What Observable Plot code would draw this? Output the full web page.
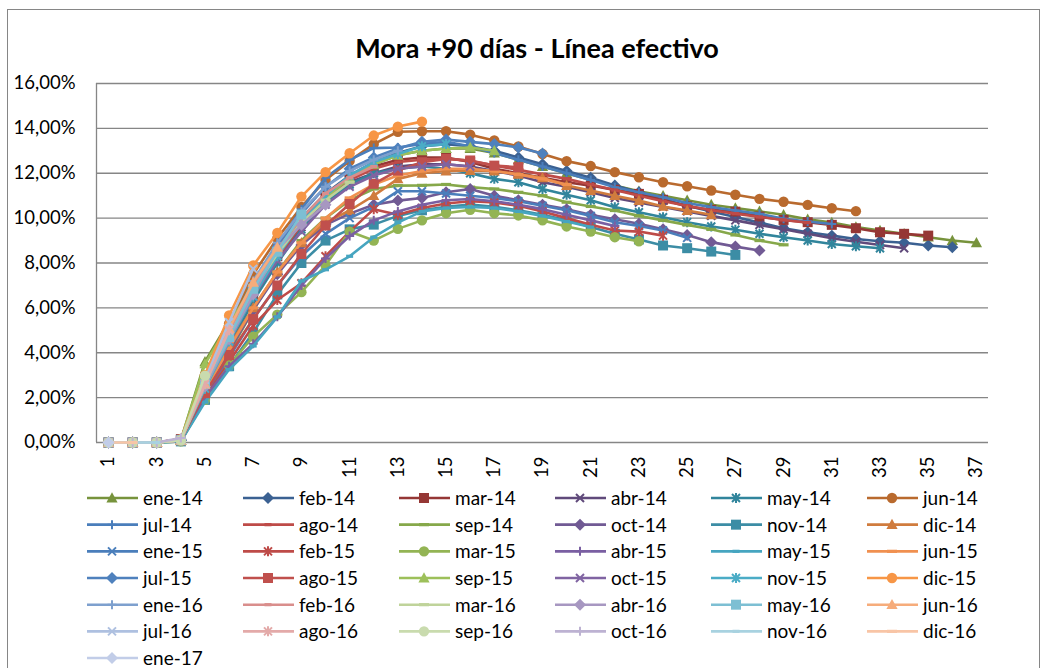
<!DOCTYPE html>
<html><head><meta charset="utf-8">
<script src="https://cdn.jsdelivr.net/npm/d3@7"></script>
<script src="https://cdn.jsdelivr.net/npm/@observablehq/plot@0.6"></script>
<style>
html,body{margin:0;padding:0;background:#fff;}
#wrap{position:relative;width:1050px;height:668px;overflow:hidden;font-family:Lato,"Open Sans",sans-serif;}
#border{position:absolute;left:7px;top:9px;width:1033px;height:700px;border:1.3px solid #868686;box-sizing:border-box;}
#title{position:absolute;left:0;width:1074px;top:31px;text-align:center;font-weight:bold;font-size:27px;color:#000;}
#chart{position:absolute;left:0;top:0;}
#legend{position:absolute;left:0;top:480px;}
</style></head>
<body><div id="wrap"><div id="border"></div><div id="chart"></div><div id="title">Mora +90 días - Línea efectivo</div><div id="legend"></div></div>
<script>
// ---- data (percent) ----
const seriesNames = ["ene-14","feb-14","mar-14","abr-14","may-14","jun-14","jul-14","ago-14","sep-14","oct-14","nov-14","dic-14",
  "ene-15","feb-15","mar-15","abr-15","may-15","jun-15","jul-15","ago-15","sep-15","oct-15","nov-15","dic-15",
  "ene-16","feb-16","mar-16","abr-16","may-16","jun-16","jul-16","ago-16","sep-16","oct-16","nov-16","dic-16","ene-17"];
const xTickLabels = [1,3,5,7,9,11,13,15,17,19,21,23,25,27,29,31,33,35,37];
const yTickValues = [0,2,4,6,8,10,12,14,16];

const ene14 = [0,0,0,0.1,3.6,5.4,7.2,8.7,10.0,11.0,11.8,12.4,12.8,13.0,13.1,13.1,12.9,12.6,12.3,12.0,11.7,11.45,11.2,11.0,10.8,10.6,10.45,10.3,10.15,9.95,9.8,9.6,9.45,9.3,9.15,9.0,8.9];
const feb14 = [0,0,0,0.1,2.8,5.0,7.0,8.6,10.0,11.1,11.9,12.5,12.9,13.2,13.3,13.2,13.0,12.7,12.4,12.1,11.8,11.45,11.15,10.85,10.55,10.3,10.05,9.8,9.55,9.37,9.22,9.07,8.97,8.9,8.78,8.7];
const mar14 = [0,0,0,0.15,2.5,4.6,6.6,8.3,9.8,11.0,11.8,12.3,12.6,12.7,12.7,12.5,12.2,12.0,11.8,11.6,11.45,11.26,11.08,10.82,10.52,10.37,10.29,10.07,9.92,9.82,9.7,9.55,9.37,9.3,9.22];
const abr14 = [0,0,0,0.1,2.4,4.4,6.4,8.1,9.6,10.8,11.6,12.0,12.3,12.4,12.4,12.3,12.1,11.9,11.6,11.4,11.15,10.9,10.7,10.5,10.3,10.1,9.9,9.7,9.5,9.3,9.1,8.95,8.8,8.66];
const may14 = [0,0,0,0.1,2.3,4.3,6.3,8.0,9.5,10.7,11.5,12.0,12.2,12.3,12.2,12.0,11.75,11.6,11.3,11.04,10.8,10.49,10.26,10.04,9.82,9.63,9.48,9.3,9.15,9.0,8.85,8.75,8.66];
const jun14 = [0,0,0,0.15,3.0,5.3,7.5,9.1,10.5,11.7,12.55,13.3,13.85,13.87,13.87,13.72,13.46,13.19,12.86,12.54,12.32,12.05,11.82,11.6,11.42,11.23,11.04,10.86,10.73,10.59,10.44,10.31];
const jul14 = [0,0,0,0.1,2.6,4.8,7.0,8.8,10.4,11.8,12.6,13.12,13.15,13.3,13.4,13.2,12.9,12.6,12.3,12.0,11.7,11.38,11.15,10.93,10.67,10.49,10.34,10.19,9.97,9.85,9.74];
const ago14 = [0,0,0,0.1,2.5,4.5,6.5,8.2,9.7,10.9,11.7,12.2,12.5,12.6,12.65,12.55,12.35,12.15,11.95,11.75,11.5,11.25,11.0,10.75,10.55,10.35,10.2,10.05,9.92,9.8];
const sep14 = [0,0,0,0.1,2.2,4.0,5.9,7.6,9.0,10.0,10.8,11.3,11.45,11.46,11.5,11.38,11.3,11.15,11.0,10.71,10.52,10.34,10.1,9.9,9.7,9.5,9.25,9.0,8.81];
const oct14 = [0,0,0,0.1,2.2,4.1,5.9,7.5,8.8,9.7,10.2,10.6,10.78,10.9,11.15,11.3,11.0,10.8,10.6,10.4,10.15,9.95,9.75,9.5,9.25,8.93,8.73,8.56];
const nov14 = [0,0,0,0.05,1.9,3.4,4.9,6.6,8.0,9.0,9.5,9.71,10.1,10.35,10.5,10.6,10.5,10.35,10.15,9.9,9.6,9.3,9.05,8.78,8.66,8.51,8.36];
const dic14 = [0,0,0,0.1,2.4,4.3,6.0,7.6,8.9,9.8,10.34,11.0,11.75,12.0,12.1,12.12,12.1,11.95,11.8,11.45,11.23,11.0,10.78,10.52,10.34,10.15];
const ene15 = [0,0,0,0.1,2.1,3.8,5.5,7.0,8.3,9.3,10.0,10.5,11.2,11.2,11.1,11.0,10.9,10.75,10.55,10.35,10.1,9.82,9.65,9.45,9.12];
const feb15 = [0,0,0,0.1,2.0,3.6,5.2,6.35,7.1,8.3,9.4,10.4,10.15,10.45,10.65,10.75,10.7,10.55,10.3,10.0,9.7,9.45,9.4,9.22];
const mar15 = [0,0,0,0.05,1.9,3.43,4.72,5.7,6.7,7.9,9.4,9.0,9.52,9.9,10.22,10.37,10.22,10.12,9.9,9.63,9.4,9.15,8.97];
const abr15 = [0,0,0,0.1,2.0,3.4,4.4,5.6,7.0,8.2,9.2,9.9,10.3,10.6,10.8,10.85,10.75,10.6,10.4,10.15,9.9,9.65];
const may15 = [0,0,0,0.05,1.8,3.25,4.3,5.6,7.2,7.7,8.3,9.15,9.8,10.3,10.45,10.5,10.45,10.3,10.1,9.85,9.6];
const jun15 = [0,0,0,0.1,2.3,4.2,6.0,7.6,8.9,10.0,10.9,11.5,11.9,12.1,12.2,12.2,12.1,11.95,11.75,11.5];
const jul15 = [0,0,0,0.1,2.6,4.8,6.9,8.7,10.2,11.4,12.2,12.7,13.1,13.4,13.5,13.4,13.3,13.15,12.88];
const ago15 = [0,0,0,0.1,2.2,3.9,5.5,7.0,8.4,9.67,10.63,11.53,12.12,12.49,12.64,12.57,12.34,12.27];
const sep15 = [0,0,0,0.1,3.5,5.3,7.0,8.5,9.8,10.9,11.8,12.4,12.8,13.0,13.1,13.15,13.0];
const oct15 = [0,0,0,0.15,2.5,4.5,6.5,8.1,9.4,10.6,11.4,11.9,12.2,12.3,12.4,12.3];
const nov15 = [0,0,0,0.1,2.4,4.5,6.5,8.3,9.8,11.0,11.9,12.5,12.86,13.2,13.3];
const dic15 = [0,0,0,0.15,3.0,5.66,7.89,9.34,10.96,12.05,12.89,13.68,14.08,14.3];
const ene16 = [0,0,0,0.1,2.7,5.0,7.2,8.9,10.3,11.4,12.1,12.6,13.0];
const feb16 = [0,0,0,0.1,2.6,4.9,7.0,8.6,10.0,11.1,11.8,12.3];
const mar16 = [0,0,0,0.1,2.5,4.7,6.8,8.4,9.8,10.8,11.6];
const abr16 = [0,0,0,0.15,2.5,4.6,6.6,8.6,9.7,10.6];
const may16 = [0,0,0,0.1,2.6,4.7,6.85,8.5,10.16];
const jun16 = [0,0,0,0.1,2.6,5.08,7.14,8.7];
const jul16 = [0,0,0,0.1,2.8,5.36,7.74];
const ago16 = [0,0,0,0.1,2.6,5.0];
const sep16 = [0,0,0,0.1,2.98];
const oct16 = [0,0,0,0.2];
const nov16 = [0,0,0];
const dic16 = [0,0];
const ene17 = [0];

const seriesValues = [ene14,feb14,mar14,abr14,may14,jun14,jul14,ago14,sep14,oct14,nov14,dic14,
  ene15,feb15,mar15,abr15,may15,jun15,jul15,ago15,sep15,oct15,nov15,dic15,
  ene16,feb16,mar16,abr16,may16,jun16,jul16,ago16,sep16,oct16,nov16,dic16,ene17];

const seriesColors = ["#77933C","#3B6192","#953735","#604A7B","#31859C","#B96A2E",
  "#4A7EBB","#BE4B48","#86A84A","#715A94","#3C8DA5","#D07C3E",
  "#4A7EBB","#BE4B48","#93B454","#7A5FA2","#46A5C0","#F09050",
  "#4F81BD","#C0504D","#9DC05A","#8064A2","#4BACC6","#F79646",
  "#7EA0CE","#D98E8C","#BFD39A","#A797C1","#7DBFD3","#F6AC7B",
  "#AEC0E0","#E3AAA9","#C9DBAE","#BDB2D2","#A8D2E0","#F8C5A6","#C2CDE8"];
const seriesMarkers = ["triangle","diamond","square","x","asterisk","circle","plus","dot","dash","diamond","square","triangle",
  "x","asterisk","circle","plus","dot","dash","diamond","square","triangle","x","asterisk","circle",
  "plus","dot","dash","diamond","square","triangle","x","asterisk","circle","plus","dot","dash","diamond"];

// ---- marker shapes ----
const shapes = {
  triangle: {fill: true, draw(c){c.moveTo(0,-5.8);c.lineTo(5.6,4.4);c.lineTo(-5.6,4.4);c.closePath();}},
  diamond: {fill: true, draw(c){c.moveTo(0,-6);c.lineTo(6,0);c.lineTo(0,6);c.lineTo(-6,0);c.closePath();}},
  square: {fill: true, draw(c){c.moveTo(-5,-5);c.lineTo(5,-5);c.lineTo(5,5);c.lineTo(-5,5);c.closePath();}},
  circle: {fill: true, draw(c){c.moveTo(5.2,0);c.arc(0,0,5.2,0,2*Math.PI);c.closePath();}},
  x: {fill: false, draw(c){c.moveTo(-4,-4);c.lineTo(4,4);c.moveTo(4,-4);c.lineTo(-4,4);}},
  asterisk: {fill: false, draw(c){c.moveTo(-4,-4);c.lineTo(4,4);c.moveTo(4,-4);c.lineTo(-4,4);c.moveTo(0,-5);c.lineTo(0,5);}},
  plus: {fill: false, draw(c){c.moveTo(-4.5,0);c.lineTo(4.5,0);c.moveTo(0,-4.5);c.lineTo(0,4.5);}},
  dot: {fill: true, draw(c){c.moveTo(-3.5,-1.6);c.lineTo(3.5,-1.6);c.lineTo(3.5,1.6);c.lineTo(-3.5,1.6);c.closePath();}},
  dash: {fill: true, draw(c){c.moveTo(-5,-1.6);c.lineTo(5,-1.6);c.lineTo(5,1.6);c.lineTo(-5,1.6);c.closePath();}}
};
const symbolOf = k => ({draw: (ctx) => shapes[k].draw(ctx)});

// ---- marks ----
const fmt = v => v.toFixed(2).replace(".", ",") + "%";
const seriesMarks = [];
seriesValues.forEach((vals, i) => {
  const data = vals.map((v, j) => ({month: j + 1, value: v}));
  const color = seriesColors[i];
  const shp = shapes[seriesMarkers[i]];
  seriesMarks.push(Plot.line(data, {x: "month", y: "value", stroke: color, strokeWidth: 2.6, strokeLinejoin: "round", strokeLinecap: "round"}));
  seriesMarks.push(Plot.dot(data, {x: "month", y: "value", symbol: symbolOf(seriesMarkers[i]), r: 5,
    fill: shp.fill ? color : "none", stroke: shp.fill ? "none" : color, strokeWidth: shp.fill ? 0 : 2}));
});

const chart = Plot.plot({
  width: 1050, height: 480,
  marginTop: 83, marginBottom: 38, marginLeft: 96, marginRight: 62,
  x: {domain: [0.5, 37.5], axis: null, label: null},
  y: {domain: [0, 16], axis: null, label: null},
  style: {fontFamily: 'Lato, "Open Sans", sans-serif', color: "#000", background: "transparent", overflow: "visible"},
  marks: [
    Plot.gridY(yTickValues, {stroke: "#868686", strokeOpacity: 1, strokeWidth: 1.3}),
    Plot.axisY(yTickValues, {tickSize: 0, tickPadding: 21, tickFormat: fmt, fontSize: 18.5, fill: "#000", label: null}),
    Plot.axisX(xTickLabels, {tickSize: 0, tickRotate: -90, tickPadding: 14, fontSize: 18.5, fill: "#000", label: null}),
    Plot.ruleX([0.5], {stroke: "#868686", strokeWidth: 1.3}),
    ...seriesMarks
  ]
});
document.getElementById("chart").appendChild(chart);

// ---- legend ----
const lg = d3.select("#legend").append("svg").attr("width", 1050).attr("height", 188)
  .style("font-family", 'Lato, "Open Sans", sans-serif');
seriesNames.forEach((name, i) => {
  const col = i % 6, row = Math.floor(i / 6);
  const cx = 112 + 156 * col, cy = 18 + 26.67 * row;
  const g = lg.append("g").attr("transform", `translate(${cx},${cy})`);
  const color = seriesColors[i];
  const shp = shapes[seriesMarkers[i]];
  g.append("line").attr("x1", -25).attr("x2", 26).attr("stroke", color).attr("stroke-width", 2.6);
  const p = d3.path(); shp.draw(p);
  g.append("path").attr("d", p.toString())
    .attr("fill", shp.fill ? color : "none").attr("stroke", shp.fill ? "none" : color).attr("stroke-width", 2);
  g.append("text").attr("x", 31).attr("dy", "0.36em").attr("font-size", 19).attr("fill", "#000").text(name);
});
</script></body></html>
